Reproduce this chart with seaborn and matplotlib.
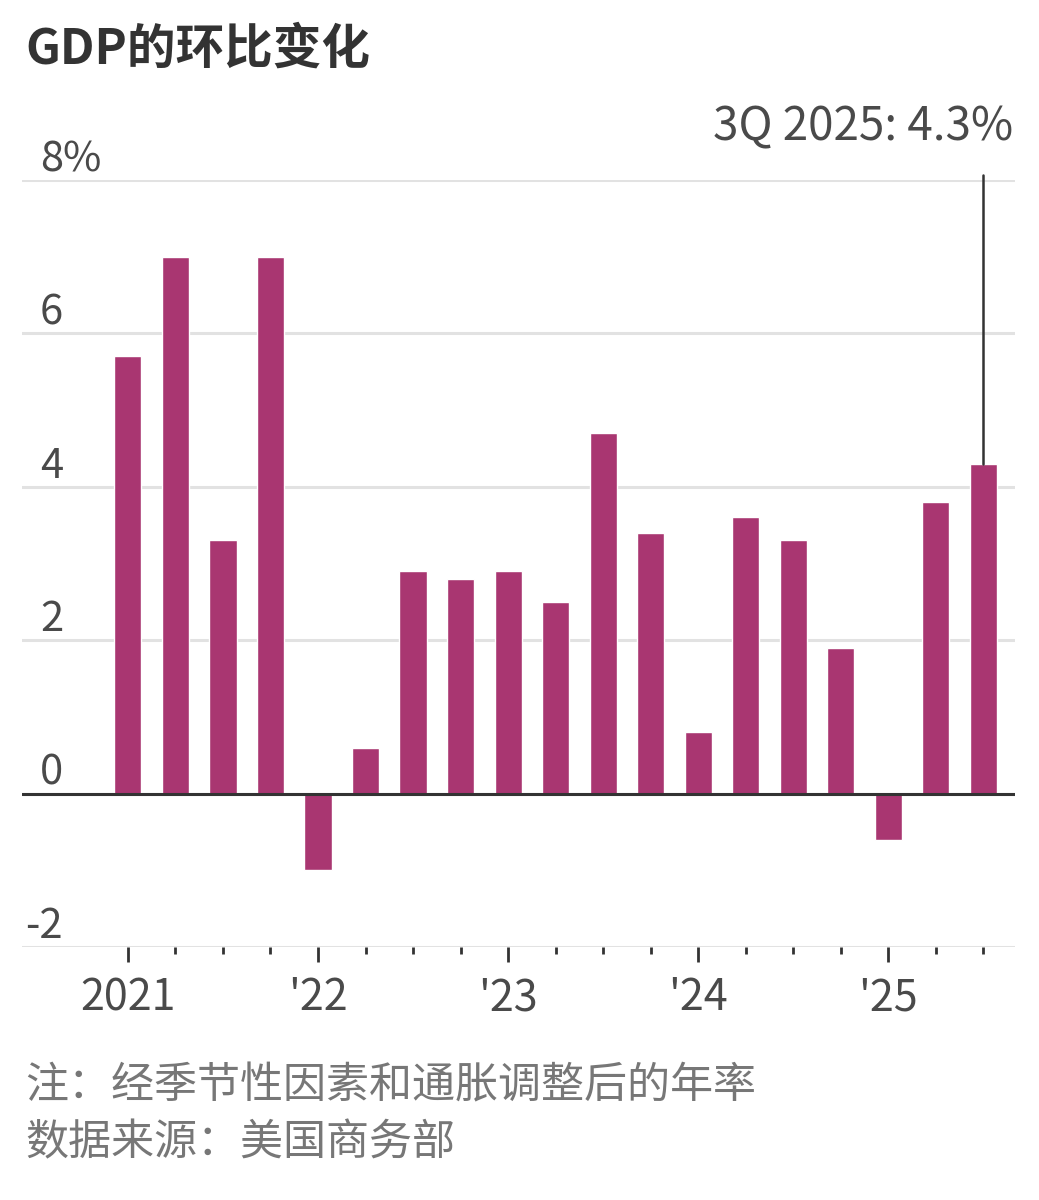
import matplotlib
matplotlib.use("Agg")
import matplotlib.pyplot as plt
import seaborn as sns
import pandas as pd

quarters = ["2021Q1", "2021Q2", "2021Q3", "2021Q4",
            "2022Q1", "2022Q2", "2022Q3", "2022Q4",
            "2023Q1", "2023Q2", "2023Q3", "2023Q4",
            "2024Q1", "2024Q2", "2024Q3", "2024Q4",
            "2025Q1", "2025Q2", "2025Q3"]
growth = [5.7, 7.0, 3.3, 7.0,
          -1.0, 0.6, 2.9, 2.8,
          2.9, 2.5, 4.7, 3.4,
          0.8, 3.6, 3.3, 1.9,
          -0.6, 3.8, 4.3]
year_labels = ["2021", "'22", "'23", "'24", "'25"]
y_ticks = [-2, 0, 2, 4, 6, 8]
y_tick_labels = ["-2", "0", "2", "4", "6", "8%"]
title = "GDP的环比变化"
annotation = "3Q 2025: 4.3%"
note_lines = ["注：经季节性因素和通胀调整后的年率", "数据来源：美国商务部"]

sns.set_theme(style="white")
plt.rcParams["font.family"] = ["Noto Sans CJK SC", "DejaVu Sans"]

BAR = "#A93671"
LIGHT = "light"
W, H = 1039, 1200
fig = plt.figure(figsize=(W / 100, H / 100), dpi=100)
ax = fig.add_axes([22 / W, 1 - 947 / H, (1015 - 22) / W, (947 - 180) / H])

df = pd.DataFrame({"quarter": quarters, "growth": growth})
sns.barplot(data=df, x="quarter", y="growth", color=BAR, saturation=1,
            width=0.57, ax=ax, zorder=2)

ax.set_xlim(-2.23, 18.67)
ax.set_ylim(-2, 8)
for s in ax.spines.values():
    s.set_visible(False)

# gridlines
ax.set_yticks(y_ticks)
ax.set_yticklabels([])
ax.tick_params(axis="y", length=0)
ax.yaxis.grid(True, color="#e2e2e2", linewidth=2.2)
ax.set_axisbelow(True)
ax.axhline(0, color="#333333", linewidth=2.2, zorder=3)

# y labels above gridlines
for v, lab in zip(y_ticks, y_tick_labels):
    xpos = (25 - 22) / 993 if lab.startswith("-") else (40 - 22) / 993
    ax.text(xpos, v, lab, transform=ax.get_yaxis_transform(),
            ha="left", va="bottom", fontsize=30, color="#4a4a4a",
            fontweight=LIGHT, zorder=4)

# x ticks
n = len(quarters)
major = list(range(0, n, 4))
ax.set_xticks(major)
ax.set_xticklabels(year_labels, fontweight=LIGHT)
ax.set_xticks([i for i in range(n) if i % 4 != 0], minor=True)
ax.tick_params(axis="x", which="major", length=11, width=2, color="#333333",
               direction="out", pad=10, labelsize=31, labelcolor="#4a4a4a",
               bottom=True)
ax.tick_params(axis="x", which="minor", length=5, width=2, color="#333333",
               direction="out", bottom=True)
ax.set_xlabel("")
ax.set_ylabel("")

# annotation
last = n - 1
ax.plot([last, last], [growth[last], 8.07], color="#333333", linewidth=1.8,
        clip_on=False, zorder=4)
ax.text((1013 - 22) / 993, 8.52, annotation, transform=ax.get_yaxis_transform(),
        ha="right", va="baseline", fontsize=33, color="#4a4a4a",
        fontweight=LIGHT)

# title and notes
fig.text(25 / W, 1 - 64 / H, title, fontsize=35, fontweight="bold",
         color="#333333", ha="left", va="baseline")
fig.text(25 / W, 1 - 1098 / H, note_lines[0], fontsize=31, color="#777777",
         fontweight=LIGHT, ha="left", va="baseline")
fig.text(25 / W, 1 - 1155 / H, note_lines[1], fontsize=31, color="#777777",
         fontweight=LIGHT, ha="left", va="baseline")

fig.savefig("out.png", dpi=100, facecolor="white")
